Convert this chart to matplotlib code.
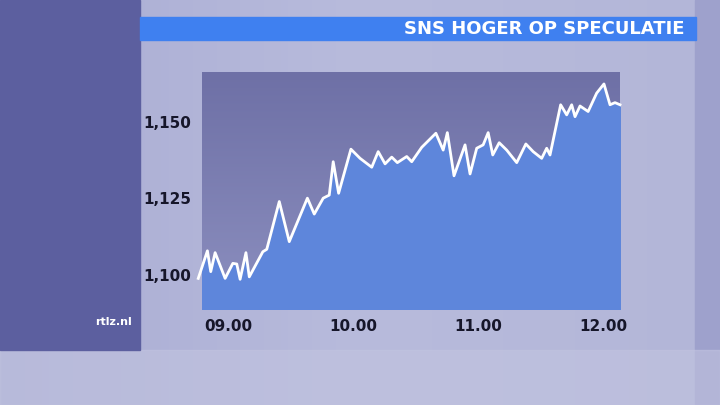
import numpy as np
import matplotlib.pyplot as plt
from matplotlib.patches import Rectangle
from matplotlib.colors import LinearSegmentedColormap

# minutes after 09.00 and share price
minutes = [-14.3, -9.9, -8.3, -6.2, -1.4, 2.3, 4.2, 5.8, 8.6, 10.2, 16.7, 18.6,
           24.6, 29.4, 38.1, 41.4, 45.7, 48.6, 50.5, 53.1, 59.0, 63.4, 69.0,
           72.1, 75.4, 78.6, 81.3, 85.8, 88.2, 93.0, 99.8, 103.3, 105.3, 108.5,
           113.8, 116.2, 119.4, 122.5, 124.9, 127.1, 130.2, 133.8, 138.6, 143.0,
           146.5, 150.6, 153.0, 154.6, 159.7, 162.6, 165.0, 166.6, 169.0, 172.9,
           177.0, 180.5, 183.4, 185.8, 188.2]
price = [1098.9, 1107.9, 1101.1, 1107.3, 1098.9, 1103.8, 1103.6, 1098.6, 1107.3,
         1099.4, 1107.6, 1108.4, 1124.0, 1110.9, 1125.1, 1119.9, 1125.1, 1126.1,
         1137.0, 1126.7, 1141.1, 1138.1, 1135.2, 1140.3, 1136.3, 1138.5, 1136.7,
         1138.7, 1137.0, 1141.7, 1146.3, 1140.8, 1146.5, 1132.4, 1142.5, 1133.0,
         1141.4, 1142.5, 1146.5, 1139.2, 1143.2, 1140.8, 1136.7, 1142.8, 1140.3,
         1138.1, 1141.4, 1139.2, 1155.6, 1152.3, 1155.6, 1151.7, 1155.2, 1153.4,
         1159.4, 1162.4, 1155.6, 1156.3, 1155.6]

x_ticks = [0, 60, 120, 180]
x_labels = ["09.00", "10.00", "11.00", "12.00"]
y_ticks = [1100, 1125, 1150]
y_labels = ["1,100", "1,125", "1,150"]
title = "SNS HOGER OP SPECULATIE"

fig = plt.figure(figsize=(7.2, 4.05), dpi=100)

# background in pixel coordinates
bg = fig.add_axes([0, 0, 1, 1])
bg.set_xlim(0, 720)
bg.set_ylim(405, 0)
bg.axis("off")
grad = np.linspace(0, 1, 256).reshape(1, -1)
bg_cmap = LinearSegmentedColormap.from_list("bg", ["#a9acd3", "#b8bbdc", "#b3b6d8"])
bg.imshow(grad, extent=[0, 720, 405, 0], aspect="auto", cmap=bg_cmap, zorder=0)
bg.add_patch(Rectangle((695, 0), 25, 405, color="#9ea1cc", zorder=1))
bg.add_patch(Rectangle((0, 350), 720, 55, color="#c2c4e0", alpha=0.6, zorder=1))
bg.add_patch(Rectangle((0, 0), 140, 350, color="#5c5f9f", zorder=2))
bg.add_patch(Rectangle((140, 17), 556, 23, color="#3f80f0", zorder=3))
bg.text(684, 29, title, color="white", fontsize=13, fontweight="bold",
        ha="right", va="center", zorder=4)
bg.text(113, 322, "rtlz.nl", color="white", fontsize=8, fontweight="bold",
        ha="center", va="center", zorder=4)

ax = fig.add_axes([202 / 720, 96 / 405, 418 / 720, 237 / 405])
ax.set_xlim(-12.5, 188.2)
ax.set_ylim(1088.9, 1166.3)
pa_cmap = LinearSegmentedColormap.from_list("pa", ["#6e70a6", "#8c8fbf"])
ax.imshow(np.linspace(0, 1, 256).reshape(-1, 1), extent=[-12.5, 188.2, 1088.9, 1166.3],
          origin="upper", aspect="auto", cmap=pa_cmap, zorder=0)
ax.fill_between(minutes, price, 1080, color="#5e86db", zorder=1)
ax.plot(minutes, price, color="white", lw=2.0, clip_on=False, zorder=3)

for s in ax.spines.values():
    s.set_visible(False)
ax.set_xticks(x_ticks)
ax.set_xticklabels(x_labels)
ax.set_yticks(y_ticks)
ax.set_yticklabels(y_labels)
ax.tick_params(length=0, labelsize=11, labelcolor="#16162a")
ax.tick_params(axis="y", pad=8)
ax.tick_params(axis="x", pad=7)
for lab in ax.get_xticklabels() + ax.get_yticklabels():
    lab.set_fontweight("bold")

fig.savefig("out.png", dpi=100)
